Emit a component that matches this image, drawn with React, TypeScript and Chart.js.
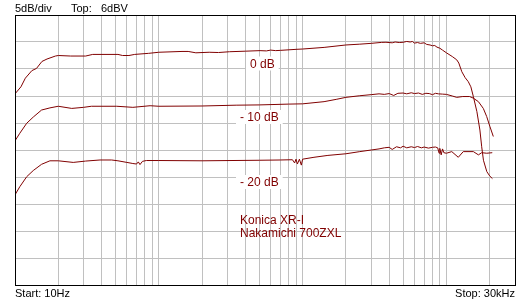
import React, { useEffect, useRef } from "react";
import { Chart, registerables } from "chart.js";

Chart.register(...registerables);

// ---- data (frequency in Hz, level in dBV) ----
const curve0Freq = [10, 11, 11.8, 13.1, 14.1, 15.4, 16.7, 19.1, 20, 24.4, 31, 34.7, 52, 56, 62, 68, 85, 100, 145, 160, 181, 224, 260, 311, 400, 506, 560, 600, 650, 700, 914, 1000, 1411, 2000, 2500, 3000, 3550, 3800, 4200, 4400, 4700, 5000, 5300, 5600, 5800, 6000, 6300, 6600, 7000, 7300, 7700, 8000, 8300, 8600, 9000, 9400, 10000, 11000, 11800, 12200, 12800, 13500, 14200, 14800, 15400, 16300, 17100, 17600, 18100, 19100, 20000, 20900];
const curve0Level = [-8.6, -7.3, -5.7, -4.3, -3.9, -2.6, -2.15, -1.6, -1.5, -1.6, -1.6, -1.3, -1.3, -1.5, -1.5, -1.3, -1.1, -0.9, -0.75, -0.75, -1.0, -0.9, -0.95, -0.8, -0.7, -0.6, -0.65, -0.5, -0.6, -0.55, -0.35, -0.3, 0.0, 0.45, 0.6, 0.75, 0.93, 0.95, 0.85, 1.0, 0.9, 0.95, 1.1, 1.0, 1.1, 0.8, 0.9, 0.75, 0.85, 0.55, 0.45, 0.3, 0.35, 0.05, -0.15, -0.5, -1.0, -1.7, -2.3, -2.9, -4.5, -5.6, -6.35, -7.3, -9.1, -11.9, -15.3, -18.4, -20.9, -23.0, -23.8, -24.3];

const curve10Freq = [10, 10.8, 12.06, 13.4, 15.3, 17.5, 20, 24.8, 30, 34, 51, 66, 87, 100, 200, 345, 500, 800, 1000, 1410, 1730, 2000, 2500, 3000, 3400, 3700, 4000, 4300, 4600, 5000, 5300, 5700, 6000, 6400, 6800, 7200, 7600, 8000, 8400, 8800, 9400, 10000, 11000, 11800, 13000, 14500, 15400, 16700, 18060, 19060, 20100, 21200];
const curve10Level = [-17.3, -15.9, -14.05, -12.9, -11.6, -11.2, -10.9, -11.3, -11.1, -10.9, -10.9, -11.1, -10.8, -10.9, -10.85, -10.7, -10.65, -10.5, -10.45, -10.05, -9.6, -9.25, -8.95, -8.75, -8.6, -8.7, -8.55, -8.9, -8.5, -8.45, -8.6, -8.4, -8.55, -8.45, -8.7, -8.5, -8.55, -8.75, -8.5, -8.6, -8.65, -8.7, -9.0, -9.25, -9.1, -9.1, -9.4, -10.05, -11.3, -12.8, -14.7, -16.5];

const curve20Freq = [10, 10.8, 12.06, 13.4, 15.3, 17.5, 20, 25.4, 31, 39, 47, 52, 60, 66, 70, 72, 74, 77, 82, 100, 200, 500, 700, 850, 880, 900, 920, 950, 980, 1000, 1200, 1500, 2000, 2500, 3000, 3400, 3700, 4000, 4200, 4500, 4800, 5000, 5300, 5700, 6000, 6300, 6700, 7000, 7500, 8000, 8400, 8700, 8900, 9000, 9200, 9400, 9600, 10000, 10900, 12100, 13100, 15400, 16700, 17600, 19060, 20850];
const curve20Level = [-27.3, -25.8, -23.95, -22.8, -21.65, -21.0, -21.0, -21.3, -21.05, -20.85, -20.85, -21.0, -21.3, -21.5, -21.6, -21.2, -21.7, -21.1, -20.95, -20.95, -21.0, -20.9, -20.85, -20.8, -21.4, -20.7, -21.6, -20.7, -21.8, -20.7, -20.35, -20.0, -19.7, -19.3, -19.0, -18.8, -18.6, -18.5, -18.9, -18.4, -18.6, -18.3, -18.6, -18.4, -18.55, -18.35, -18.6, -18.45, -18.65, -18.5, -18.45, -18.6, -19.6, -18.7, -19.9, -18.8, -19.5, -19.6, -19.3, -20.35, -19.3, -19.3, -19.9, -19.5, -19.6, -19.5];

const xGridFreqs = [20, 30, 40, 50, 60, 70, 80, 90, 100, 200, 300, 400, 500, 600, 700, 800, 900, 1000, 2000, 3000, 4000, 5000, 6000, 7000, 8000, 9000, 10000, 20000];
const yGridLevels = [1, -4, -9, -14, -19, -24, -29, -34, -39];
const curveLabels = ["0 dB", "- 10 dB", "- 20 dB"];
const noteLines = ["Konica XR-I", "Nakamichi 700ZXL"];
const headerLeft = "5dB/div";
const headerTopLabel = "Top:";
const headerTopValue = "6dBV";
const footerStart = "Start: 10Hz";
const footerStop = "Stop: 30kHz";

const X_MIN = 10;
const X_MAX = 30000;
const Y_MIN = -44;
const Y_MAX = 6;

const MAROON = "#800000";
const LABEL_FONT = '12px "Liberation Sans Narrow", "Liberation Sans", Arial, sans-serif';
const HEADER_FONT = '11px "Liberation Sans", Arial, sans-serif';

function toPoints(f: number[], v: number[]) {
  return f.map((x, i) => ({ x, y: v[i] }));
}

const overlayPlugin = {
  id: "overlay",
  afterDraw(chart: any) {
    const ctx: CanvasRenderingContext2D = chart.ctx;
    const a = chart.chartArea;
    ctx.save();

    // curve labels with white boxes
    ctx.font = LABEL_FONT;
    ctx.textBaseline = "alphabetic";
    ctx.textAlign = "left";
    const labelPos = [
      { x: 250, y: 67.5 },
      { x: 240, y: 121 },
      { x: 240, y: 186 },
    ];
    curveLabels.forEach((t, i) => {
      const w = ctx.measureText(t).width;
      const p = labelPos[i];
      ctx.fillStyle = "#ffffff";
      ctx.fillRect(p.x - 4, p.y - 11, w + 8, 14);
      ctx.fillStyle = MAROON;
      ctx.fillText(t, p.x, p.y);
    });

    // note lines
    ctx.fillStyle = MAROON;
    noteLines.forEach((t, i) => {
      ctx.fillText(t, 240, 224 + i * 12.7);
    });

    // frame
    ctx.strokeStyle = "#000000";
    ctx.lineWidth = 1;
    ctx.strokeRect(Math.round(a.left) + 0.5, Math.round(a.top) + 0.5, Math.round(a.right - a.left), Math.round(a.bottom - a.top));

    // header / footer
    ctx.font = HEADER_FONT;
    ctx.fillStyle = "#000000";
    ctx.textAlign = "left";
    ctx.fillText(headerLeft, 15, 12);
    ctx.fillText(headerTopLabel, 71, 12);
    ctx.fillText(headerTopValue, 101, 12);
    ctx.fillText(footerStart, 15, 297);
    ctx.textAlign = "right";
    ctx.fillText(footerStop, 515, 297);

    ctx.restore();
  },
};

export default function App() {
  const ref = useRef<HTMLCanvasElement | null>(null);

  useEffect(() => {
    document.body.style.margin = "0";
    const canvas = ref.current;
    if (!canvas) return;
    const ds = (f: number[], v: number[]) => ({
      data: toPoints(f, v),
      borderColor: MAROON,
      borderWidth: 1,
      pointRadius: 0,
      showLine: true,
      tension: 0,
      fill: false,
    });
    const chart = new Chart(canvas, {
      type: "scatter",
      data: {
        datasets: [
          ds(curve0Freq, curve0Level),
          ds(curve10Freq, curve10Level),
          ds(curve20Freq, curve20Level),
        ],
      },
      options: {
        responsive: false,
        animation: false,
        devicePixelRatio: 1,
        layout: { padding: { left: 15, right: 15, top: 15, bottom: 15 } },
        plugins: { legend: { display: false }, tooltip: { enabled: false } },
        scales: {
          x: {
            type: "logarithmic",
            min: X_MIN,
            max: X_MAX,
            ticks: { display: false },
            grid: { color: "#c0c0c0", lineWidth: 1, drawTicks: false },
            border: { display: false },
            afterBuildTicks: (scale: any) => {
              scale.ticks = xGridFreqs.map((v) => ({ value: v }));
            },
          },
          y: {
            type: "linear",
            min: Y_MIN,
            max: Y_MAX,
            ticks: { display: false },
            grid: { color: "#c0c0c0", lineWidth: 1, drawTicks: false },
            border: { display: false },
            afterBuildTicks: (scale: any) => {
              scale.ticks = yGridLevels.map((v) => ({ value: v }));
            },
          },
        },
      } as any,
      plugins: [overlayPlugin],
    });
    return () => chart.destroy();
  }, []);

  return (
    <div style={{ position: "absolute", left: 0, top: 0, width: 530, height: 300, background: "#ffffff" }}>
      <canvas ref={ref} width={530} height={300} style={{ width: 530, height: 300, display: "block" }} />
    </div>
  );
}
